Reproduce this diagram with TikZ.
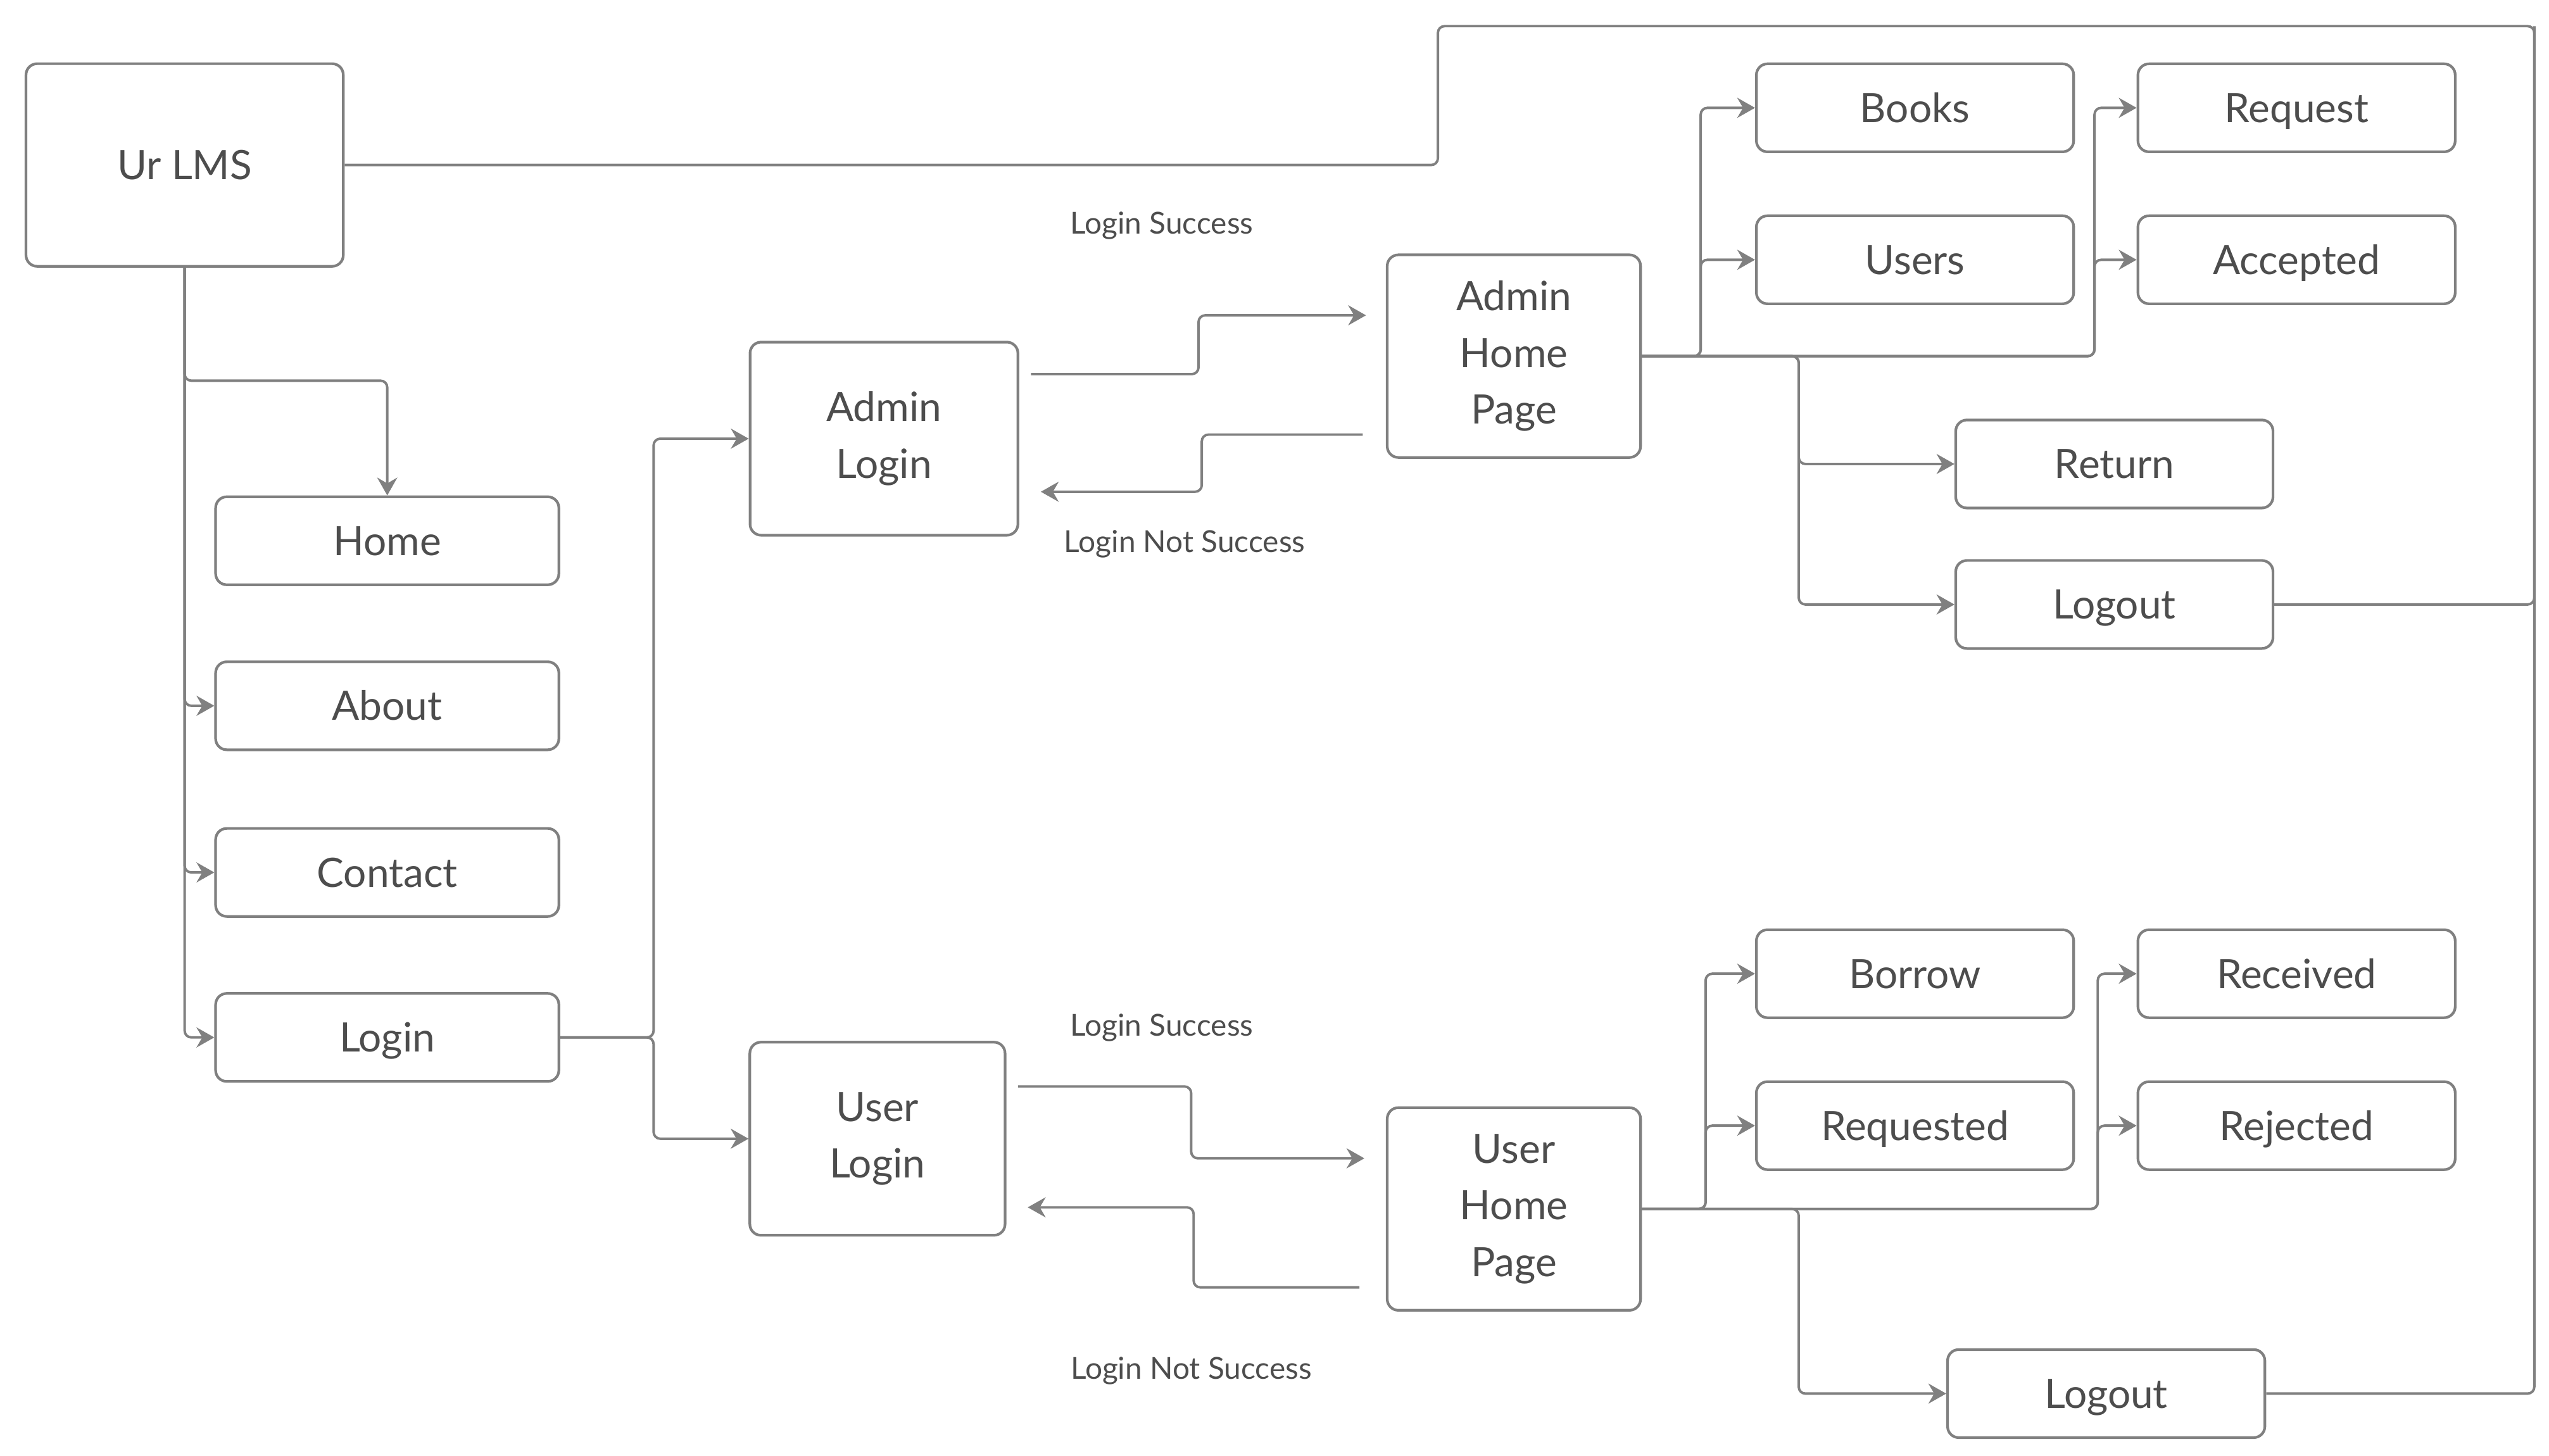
\documentclass[tikz,border=0pt]{standalone}
\usepackage{fontspec}
\setmainfont{Lato}
\usetikzlibrary{calc,arrows.meta}

\definecolor{linegray}{HTML}{808080}
\definecolor{textgray}{HTML}{4D4D4D}

\begin{document}
\begin{tikzpicture}[
        %We set the scale and define some styles
        x=0.02581cm, y=-0.02581cm,
        box/.style={draw=linegray, line width=1.2pt, rounded corners=5pt,
            text=textgray, font=\fontsize{18.2}{25.5}\selectfont, align=center, inner sep=0pt},
        one line/.style={text height=13.1pt, text depth=0pt},
        menu box/.style={box, one line, minimum width=5.42cm, minimum height=1.39cm},
        item box/.style={box, one line, minimum width=5.01cm, minimum height=1.39cm},
        big box/.style={box, minimum width=#1, minimum height=3.05cm},
        link/.style={draw=linegray, line width=1.1pt, rounded corners=3pt},
        arrow/.style={link, -{Stealth[length=8pt,width=9pt,inset=2.6pt]}},
        edge label/.style={text=textgray, font=\fontsize{13.6}{16}\selectfont},
]
\useasboundingbox (0,0) rectangle (1560,891);
\begin{scope}
    % Main node and its menu
    \node[box, one line, minimum width=5.01cm, minimum height=3.2cm] (ur) at (113,101) {Ur LMS};
    \node[menu box] (home) at (237,331) {Home};
    \node[menu box] (about) at (237,432) {About};
    \node[menu box] (contact) at (237,534) {Contact};
    \node[menu box] (login) at (237,635) {Login};

    % Login pages
    \node[big box=4.23cm] (adminlogin) at (541,268.5) {Admin\\Login};
    \node[big box=4.03cm] (userlogin) at (537,697) {User\\Login};
    \node[box, minimum width=4cm, minimum height=3.2cm] (adminhome) at (926.5,218) {Admin\\Home\\Page};
    \node[box, minimum width=4cm, minimum height=3.2cm] (userhome) at (926.5,740) {User\\Home\\Page};

    % Admin items
    \node[item box] (books) at (1172,66) {Books};
    \node[item box] (users) at (1172,159) {Users};
    \node[item box] (request) at (1405.5,66) {Request};
    \node[item box] (accepted) at (1405.5,159) {Accepted};
    \node[item box] (return) at (1294,284) {Return};
    \node[item box] (adminlogout) at (1294,370) {Logout};

    % User items
    \node[item box] (borrow) at (1172,596) {Borrow};
    \node[item box] (requested) at (1172,689) {Requested};
    \node[item box] (received) at (1405.5,596) {Received};
    \node[item box] (rejected) at (1405.5,689) {Rejected};
    \node[item box] (userlogout) at (1289,853) {Logout};

    % labels
    \node[edge label] (adminok) at (711,138) {Login Success};
    \node[edge label] (adminfail) at (725,333) {Login Not Success};
    \node[edge label] (userok) at (711,629) {Login Success};
    \node[edge label] (userfail) at (729,839) {Login Not Success};

    % Free ends of the login arrows
    \coordinate (as1) at (631,229);
    \coordinate (as2) at (836,193);
    \coordinate (af1) at (834,266);
    \coordinate (af2) at (637,301);
    \coordinate (us1) at (623,665);
    \coordinate (us2) at (835,709);
    \coordinate (uf1) at (832,788);
    \coordinate (uf2) at (629,739);
    \coordinate (split) at (113,233);
    \coordinate (fork) at (400,635);
    \coordinate (topbend) at (880,16);
    \coordinate (rightbend) at (1551,16);

    % menu
    \draw[arrow] (ur.south) -- (split) -| (home.north);
    \foreach \t in {about,contact,login}
        \draw[arrow] (ur.south) |- (\t.west);
    \draw[arrow] (login.east) -- (fork) |- (adminlogin.west);
    \draw[arrow] (login.east) -- (fork) |- (userlogin.west);

    % login success / not success
    \foreach \a/\b in {as1/as2,af1/af2,us1/us2,uf1/uf2}
        \draw[arrow] (\a) -| ($(\a)!.5!(\b)$) |- (\b);

    % admin home page
    \foreach \t in {books,users}
        \draw[arrow] (adminhome.east) -- ++(36,0) |- (\t.west);
    \foreach \t in {request,accepted}
        \draw[arrow] (adminhome.east) -- ++(277,0) |- (\t.west);
    \foreach \t in {return,adminlogout}
        \draw[arrow] (adminhome.east) -- ++(96,0) |- (\t.west);

    % user home page
    \foreach \t in {borrow,requested}
        \draw[arrow] (userhome.east) -- ++(39,0) |- (\t.west);
    \foreach \t in {received,rejected}
        \draw[arrow] (userhome.east) -- ++(279,0) |- (\t.west);
    \draw[arrow] (userhome.east) -- ++(96,0) |- (userlogout.west);

    % logout goes back to Ur LMS
    \draw[link] (ur.east) -| (topbend) -- (rightbend) |- (userlogout.east);
    \draw[link] (adminlogout.east) -| (rightbend);
\end{scope}
\end{tikzpicture}
\end{document}
